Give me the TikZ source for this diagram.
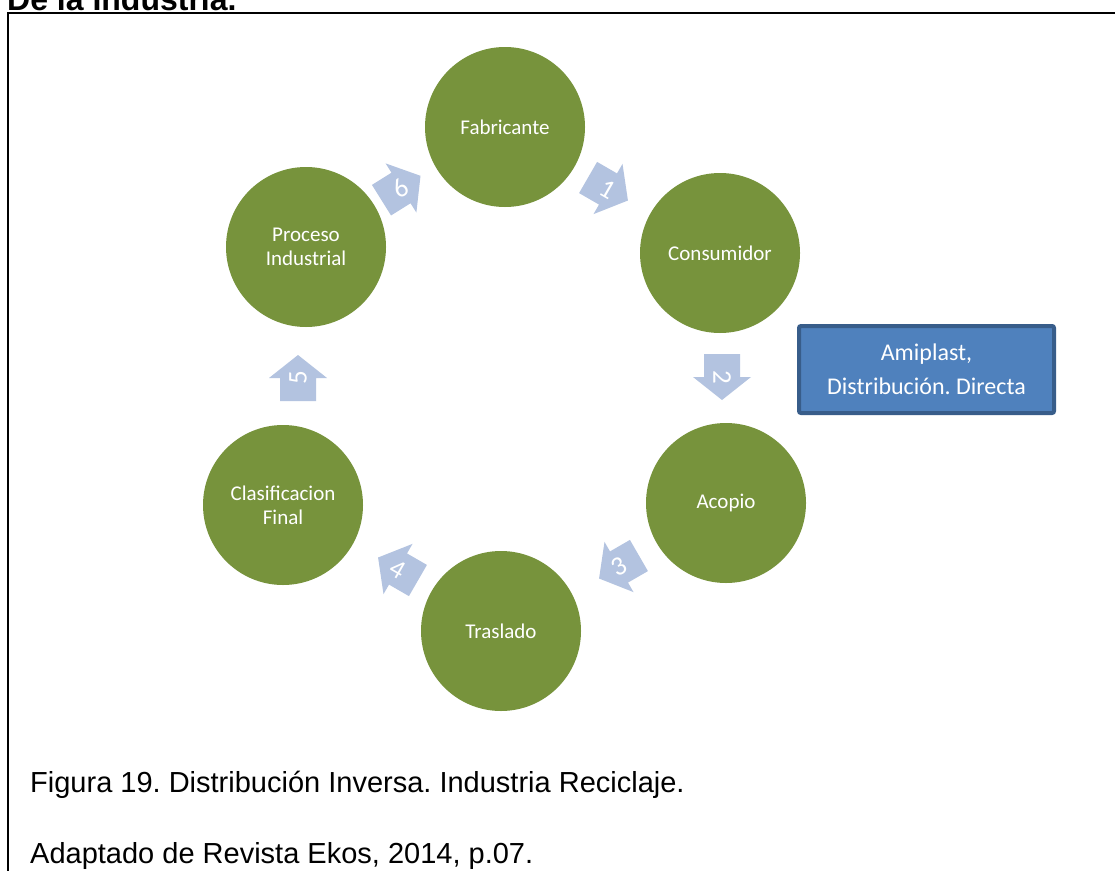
\documentclass[tikz,border=0pt]{standalone}
\usepackage{fontspec}
\setmainfont{Carlito}
\newfontfamily\arialfont{Liberation Sans}
\frenchspacing
\definecolor{stagegreen}{HTML}{77933C}
\definecolor{arrowblue}{HTML}{B3C3E0}
\definecolor{boxblue}{HTML}{4F81BD}
\definecolor{boxborder}{HTML}{385D8A}
\newcommand\cycarrow[5]{%
  \begin{scope}[shift={#2}, rotate=#3]
    \fill[arrowblue] (-23,-18) -- (0,-18) -- (0,-29) -- (23,0) -- (0,29) -- (0,18) -- (-23,18) -- cycle;
  \end{scope}
  \node[num, rotate=#4] (#1) at #2 {#5};
}
\begin{document}
\begin{tikzpicture}[x=1pt,y=-1pt,
  stage/.style={circle, fill=stagegreen, draw=none, minimum size=160pt, inner sep=0pt,
    text=white, font=\fontsize{21}{24}\selectfont, align=center},
  num/.style={text=white, font=\fontsize{27}{27}\selectfont, inner sep=0pt},
  caption/.style={anchor=base west, inner sep=0pt, font=\arialfont\fontsize{29}{29}\selectfont},
  frame/.style={line width=2.5pt, draw=black}]
\clip (0,0) rectangle (1115,870);
\fill[white] (0,0) rectangle (1115,870);
% title (cut off at top, as in the reference)
\node[anchor=base west, inner sep=0pt, font=\arialfont\bfseries\fontsize{32}{32}\selectfont] (title) at (7,10) {De la Industria.};
% frame
\coordinate (fbl) at (8,872);
\coordinate (ftl) at (8,13);
\coordinate (ftr) at (1117,13);
\draw[frame] (fbl) -- (ftl) -- (ftr);
% stages
\node[stage] (fab) at (505,127) {Fabricante};
\node[stage] (con) at (720,253) {Consumidor};
\node[stage] (aco) at (726,503) {Acopio};
\node[stage] (tra) at (501,631) {Traslado};
\node[stage] (cla) at (283,505) {Clasificacion\\Final};
\node[stage] (pro) at (306,247) {Proceso\\Industrial};
% arrows
\cycarrow{a1}{(608,189)}{-30}{-30}{1}
\cycarrow{a2}{(722,377)}{-90}{-90}{2}
\cycarrow{a3}{(619,567)}{210}{30}{3}
\cycarrow{a4}{(398,569)}{150}{-30}{4}
\cycarrow{a5}{(298,378)}{90}{90}{5}
\cycarrow{a6}{(401,188)}{32}{32}{6}
% box
\node[draw=boxborder, line width=4pt, fill=boxblue, minimum width=255pt, minimum height=87pt,
  rounded corners=2pt, text=white, font=\fontsize{24}{34}\selectfont, align=center] (ami) at (926.5,369.5)
  {Amiplast,\\Distribución. Directa};
% captions
\node[caption] (cap1) at (30,792) {Figura 19. Distribución Inversa. Industria Reciclaje.};
\node[caption] (cap2) at (30,863) {Adaptado de Revista Ekos, 2014, p.07.};
\end{tikzpicture}
\end{document}
